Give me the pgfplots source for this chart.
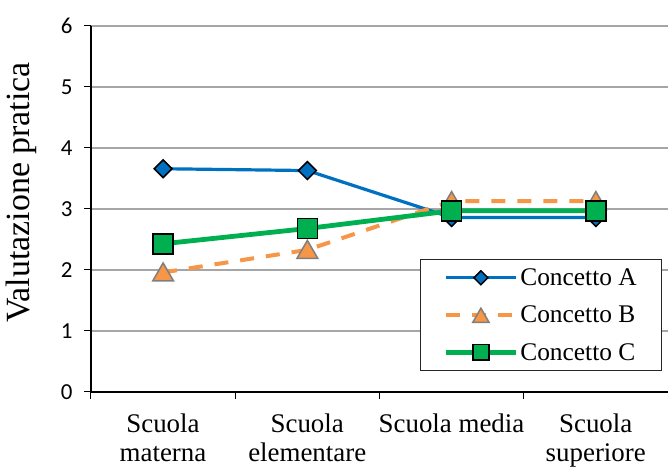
\documentclass[border=0pt]{standalone}
\usepackage{fontspec}
\setmainfont{Liberation Serif}
\newfontfamily\calibri{Carlito}
\usepackage{pgfplots}
\pgfplotsset{compat=1.18}
\definecolor{cA}{HTML}{0070C0}
\definecolor{cB}{HTML}{F79646}
\definecolor{cC}{HTML}{00B050}
\definecolor{gridgray}{HTML}{A6A6A6}
\definecolor{trigray}{HTML}{7F7F7F}

\begin{document}
\begin{tikzpicture}
\begin{axis}[
  name=ax,
  scale only axis,
  width=577bp, height=366bp,
  xmin=-0.5, xmax=3.5,
  ymin=0, ymax=6,
  axis x line*=bottom, axis y line*=left,
  axis line style={black, line width=1.1bp},
  ytick={0,1,...,6},
  xtick={-0.5,0.5,1.5,2.5},
  xticklabels={Scuola\\materna, Scuola\\elementare, Scuola media, Scuola\\superiore},
  x tick label style={font=\fontsize{27}{29}\selectfont, align=center, anchor=north, xshift=72bp, yshift=-11bp},
  y tick label style={font=\fontsize{23}{23}\calibri, xshift=-8bp},
  /pgf/number format/assume math mode=true,
  tick align=outside,
  major tick length=7bp,
  tick style={black, line width=1bp},
  ymajorgrids,
  major grid style={gridgray, line width=1.2bp},
  ylabel={Valutazione pratica},
  ylabel style={font=\fontsize{34}{34}\selectfont, at={(axis description cs:-0.12,0.545)}, anchor=center},
  legend style={at={(axis description cs:0.99,0.363)}, anchor=north east,
    draw=black!85, line width=1bp, fill=white,
    font=\fontsize{25.5}{25.5}\selectfont,
    inner xsep=23bp, inner ysep=7bp, row sep=15bp,
    nodes={inner sep=2bp}, cells={anchor=west}},
  legend image code/.code={\draw[mark repeat=2,mark phase=2, every mark/.append style={scale=0.78}]
    plot coordinates {(0bp,0bp) (35bp,0bp) (70bp,0bp)};},
]
% Concetto A
\addplot[cA, line width=3.2bp, mark=square*, mark size=6.3bp,
  mark options={rotate=45, fill=cA, draw=black, line width=1.5bp, solid}]
  coordinates {(0,3.66) (1,3.63) (2,2.86) (3,2.86)};
\addlegendentry{Concetto A}
% Concetto B
\addplot[cB, line width=4bp, dash pattern=on 14bp off 12bp, mark=triangle*, mark size=12bp,
  mark options={fill=cB, draw=trigray, line width=1.5bp, solid, yshift=-2.5bp}]
  coordinates {(0,1.96) (1,2.33) (2,3.13) (3,3.13)};
\addlegendentry{Concetto B}
% Concetto C
\addplot[cC, line width=4.8bp, mark=square*, mark size=10bp,
  mark options={fill=cC, draw=black, line width=1.6bp, solid}]
  coordinates {(0,2.43) (1,2.68) (2,2.97) (3,2.97)};
\addlegendentry{Concetto C}
\end{axis}
\path[use as bounding box] ([xshift=-91bp,yshift=-75bp]ax.south west) rectangle ([xshift=4bp,yshift=26bp]ax.north east);
\end{tikzpicture}
\end{document}
